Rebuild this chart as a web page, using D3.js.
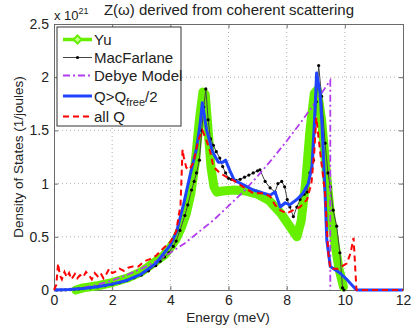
<!DOCTYPE html>
<html>
<head>
<meta charset="utf-8">
<script src="https://cdn.jsdelivr.net/npm/d3@7"></script>
<style>
  body { margin: 0; background: #fff; }
  text { font-family: "Liberation Sans", Arial, sans-serif; fill: #222; }
</style>
</head>
<body>
<div id="chart-container"></div>
<script>
const xTicks = [0, 2, 4, 6, 8, 10, 12];
const yTicks = [0, 0.5, 1, 1.5, 2, 2.5];

// Yu (thick green)
const yuX = [0.75, 1.0, 1.5, 2.0, 2.5, 3.0, 3.5, 3.8, 4.0, 4.2, 4.4, 4.55, 4.7, 4.85, 5.0, 5.12, 5.2, 5.3, 5.4, 5.5, 5.6, 5.8, 6.2, 6.6, 7.0, 7.4, 7.8, 8.1, 8.35, 8.5, 8.65, 8.8, 8.95, 9.05, 9.2, 9.35, 9.5, 9.65, 9.8, 9.95];
const yuY = [0.0, 0.02, 0.04, 0.07, 0.11, 0.17, 0.27, 0.33, 0.4, 0.48, 0.6, 0.72, 0.9, 1.18, 1.6, 1.86, 1.84, 1.5, 1.15, 0.97, 0.92, 0.93, 0.94, 0.93, 0.9, 0.84, 0.72, 0.6, 0.5, 0.65, 1.0, 1.5, 1.85, 1.88, 1.6, 1.15, 0.72, 0.45, 0.2, 0.03];

// MacFarlane (black, dotted markers)
const macX = [0.1, 0.25, 0.4, 0.55, 0.7, 0.85, 1.0, 1.25, 1.5, 1.75, 2.0, 2.25, 2.5, 2.75, 3.0, 3.25, 3.5, 3.65, 3.8, 3.95, 4.1, 4.2, 4.33, 4.5, 4.6, 4.73, 4.82, 4.9, 5.0, 5.08, 5.15, 5.22, 5.3, 5.38, 5.48, 5.58, 5.7, 5.8, 5.9, 6.0, 6.1, 6.25, 6.4, 6.55, 6.7, 6.85, 7.0, 7.08, 7.26, 7.43, 7.6, 7.7, 7.83, 7.93, 8.02, 8.11, 8.23, 8.35, 8.46, 8.6, 8.7, 8.8, 8.92, 9.02, 9.1, 9.2, 9.32, 9.42, 9.5, 9.6, 9.72, 9.83, 9.92, 9.97];
const macY = [0.0, 0.0, 0.002, 0.004, 0.007, 0.01, 0.013, 0.02, 0.03, 0.04, 0.055, 0.07, 0.09, 0.115, 0.14, 0.18, 0.23, 0.27, 0.31, 0.35, 0.41, 0.46, 0.56, 0.7, 0.8, 0.94, 1.02, 1.1, 1.22, 1.5, 1.72, 1.89, 1.6, 1.42, 1.36, 1.3, 1.24, 1.16, 1.1, 1.05, 1.04, 1.03, 1.04, 1.06, 1.08, 1.1, 1.12, 1.13, 1.02, 0.96, 0.92, 1.0, 1.02, 0.97, 0.85, 0.78, 0.69, 0.78, 0.85, 0.9, 0.92, 1.1, 1.22, 1.77, 2.11, 1.82, 1.38, 1.1, 0.97, 0.75, 0.6, 0.35, 0.02, 0.0];

// Debye model (purple dash-dot)
const debyeX = [0, 0.5, 1, 1.5, 2, 2.5, 3, 3.5, 4, 4.5, 5, 5.5, 6, 6.5, 7, 7.5, 8, 8.5, 9, 9.5, 9.5];
const debyeY = [0, 0.005, 0.02, 0.05, 0.09, 0.14, 0.2, 0.27, 0.35, 0.44, 0.55, 0.66, 0.79, 0.92, 1.07, 1.23, 1.4, 1.58, 1.77, 1.97, 0];

// Q > Qfree/2 (blue)
const blueX = [0, 0.5, 1.0, 1.5, 2.0, 2.5, 3.0, 3.5, 4.0, 4.22, 4.45, 4.68, 4.9, 5.02, 5.1, 5.25, 5.45, 5.65, 5.8, 5.9, 6.05, 6.2, 6.5, 6.85, 7.2, 7.43, 7.6, 7.78, 7.95, 8.1, 8.35, 8.56, 8.74, 8.87, 8.95, 9.03, 9.15, 9.22, 9.32, 9.38, 9.5, 9.83, 10.1, 10.4, 12];
const blueY = [0.0, 0.005, 0.015, 0.03, 0.055, 0.09, 0.15, 0.25, 0.42, 0.55, 0.8, 1.08, 1.33, 1.55, 1.76, 1.5, 1.3, 1.2, 1.2, 1.22, 1.12, 1.03, 0.99, 0.94, 0.91, 0.89, 0.92, 0.78, 0.82, 0.8, 0.85, 0.91, 1.0, 1.16, 1.55, 2.04, 1.85, 1.53, 0.91, 0.47, 0.22, 0.16, 0.09, 0.0, 0.0];

// all Q (red dashed)
const redX = [0, 0.08, 0.14, 0.2, 0.27, 0.36, 0.44, 0.52, 0.6, 0.72, 0.8, 0.9, 1.0, 1.1, 1.2, 1.3, 1.4, 1.5, 1.6, 1.7, 1.8, 1.9, 2.0, 2.1, 2.25, 2.4, 2.55, 2.7, 2.9, 3.1, 3.3, 3.5, 3.75, 4.0, 4.2, 4.35, 4.42, 4.46, 4.55, 4.65, 4.8, 4.95, 5.1, 5.25, 5.37, 5.48, 5.7, 5.94, 6.17, 6.5, 6.85, 7.2, 7.43, 7.6, 7.78, 8.0, 8.23, 8.46, 8.7, 8.85, 8.95, 9.02, 9.15, 9.32, 9.38, 9.43, 9.5, 9.77, 10.07, 10.2, 10.3, 10.4, 12];
const redY = [0.0, 0.05, 0.25, 0.14, 0.1, 0.17, 0.12, 0.16, 0.1, 0.15, 0.11, 0.14, 0.12, 0.17, 0.14, 0.1, 0.16, 0.13, 0.16, 0.11, 0.15, 0.2, 0.16, 0.17, 0.2, 0.18, 0.21, 0.22, 0.22, 0.27, 0.29, 0.32, 0.39, 0.45, 0.55, 0.8, 1.32, 1.25, 1.15, 1.13, 1.2, 1.4, 1.5, 1.4, 1.3, 1.16, 1.1, 1.06, 1.03, 0.97, 0.91, 0.91, 0.88, 0.8, 0.75, 0.72, 0.75, 0.78, 0.85, 1.0, 1.3, 1.62, 1.3, 0.91, 0.6, 0.35, 0.2, 0.2, 0.25, 0.35, 0.49, 0.0, 0.0];

const zip = (xs, ys) => xs.map((x, i) => ({ x, y: ys[i] }));

const width = 415, height = 326;
const margin = { top: 24, right: 12, bottom: 36, left: 54 };
const plotW = width - margin.left - margin.right;
const plotH = height - margin.top - margin.bottom;

const svg = d3.select("#chart-container")
    .append("svg")
    .attr("width", width)
    .attr("height", height);

const g = svg.append("g")
    .attr("transform", `translate(${margin.left},${margin.top})`);

const x = d3.scaleLinear().domain([0, 12]).range([0, plotW]);
const y = d3.scaleLinear().domain([0, 2.5]).range([plotH, 0]);

// Grid
g.append("g").selectAll("line")
    .data(xTicks.slice(1, -1))
    .join("line")
    .attr("x1", d => x(d)).attr("x2", d => x(d))
    .attr("y1", 0).attr("y2", plotH)
    .attr("stroke", "#b0b0b0").attr("stroke-dasharray", "1,3");
g.append("g").selectAll("line")
    .data(yTicks.slice(1, -1))
    .join("line")
    .attr("y1", d => y(d)).attr("y2", d => y(d))
    .attr("x1", 0).attr("x2", plotW)
    .attr("stroke", "#b0b0b0").attr("stroke-dasharray", "1,3");

// Axes
g.append("g")
    .attr("transform", `translate(0,${plotH})`)
    .call(d3.axisBottom(x).tickValues(xTicks).tickSize(-4).tickPadding(5));
g.append("g")
    .call(d3.axisLeft(y).tickValues(yTicks).tickFormat(d3.format("")).tickSize(-4).tickPadding(5));
g.append("g")
    .call(d3.axisTop(x).tickValues(xTicks).tickSize(-4).tickFormat(""));
g.append("g")
    .attr("transform", `translate(${plotW},0)`)
    .call(d3.axisRight(y).tickValues(yTicks).tickSize(-4).tickFormat(""));
g.selectAll(".domain, .tick line").attr("stroke", "#6a6a6a");
g.selectAll(".tick text").style("font-size", "14px").attr("fill", "#222");

const line = d3.line().x(d => x(d.x)).y(d => y(d.y));

// Yu
g.append("path")
    .datum(zip(yuX, yuY))
    .attr("fill", "none")
    .attr("stroke", "#66f000")
    .attr("stroke-width", 9)
    .attr("stroke-linejoin", "round")
    .attr("stroke-linecap", "round")
    .attr("d", line);

// MacFarlane
g.append("path")
    .datum(zip(macX, macY))
    .attr("fill", "none")
    .attr("stroke", "#444")
    .attr("stroke-width", 1)
    .attr("d", line);
g.append("g").selectAll("circle")
    .data(zip(macX, macY))
    .join("circle")
    .attr("cx", d => x(d.x))
    .attr("cy", d => y(d.y))
    .attr("r", 1.6)
    .attr("fill", "#000");

// Debye
g.append("path")
    .datum(zip(debyeX, debyeY))
    .attr("fill", "none")
    .attr("stroke", "#b23cf0")
    .attr("stroke-width", 1.8)
    .attr("stroke-dasharray", "7,3,2,3")
    .attr("d", line);

// Q > Qfree/2
g.append("path")
    .datum(zip(blueX, blueY))
    .attr("fill", "none")
    .attr("stroke", "#1f44ff")
    .attr("stroke-width", 3)
    .attr("stroke-linejoin", "round")
    .attr("d", line);

// all Q
g.append("path")
    .datum(zip(redX, redY))
    .attr("fill", "none")
    .attr("stroke", "#ff0000")
    .attr("stroke-width", 2)
    .attr("stroke-dasharray", "6,4")
    .attr("d", line);

// Title and labels
svg.append("text")
    .attr("x", 229).attr("y", 15)
    .attr("text-anchor", "middle")
    .style("font-size", "15px")
    .text("Z(ω) derived from coherent scattering");

const expo = svg.append("text")
    .attr("x", 54).attr("y", 20)
    .style("font-size", "13px");
expo.append("tspan").text("x 10");
expo.append("tspan").attr("dy", -6).style("font-size", "9px").text("21");

svg.append("text")
    .attr("x", 228).attr("y", 322)
    .attr("text-anchor", "middle")
    .style("font-size", "13.5px")
    .text("Energy (meV)");

svg.append("text")
    .attr("transform", `translate(23,${margin.top + plotH / 2}) rotate(-90)`)
    .attr("text-anchor", "middle")
    .style("font-size", "13.5px")
    .text("Density of States (1/joules)");

// Legend
const legend = svg.append("g").attr("transform", "translate(57,27)");
legend.append("rect")
    .attr("width", 124).attr("height", 99)
    .attr("fill", "#fff").attr("stroke", "#333").attr("stroke-width", 1);

const entries = [
    { label: "Yu", color: "#66f000", w: 3.5, dash: null },
    { label: "MacFarlane", color: "#444", w: 1, dash: null },
    { label: "Debye Model", color: "#b23cf0", w: 1.8, dash: "7,3,2,3" },
    { label: "Q>Q", color: "#1f44ff", w: 3, dash: null },
    { label: "all Q", color: "#ff0000", w: 2, dash: "6,4" }
];
const rowY = [12.5, 30.5, 48.5, 69, 89.5];

entries.forEach((e, i) => {
    const row = legend.append("g").attr("transform", `translate(0,${rowY[i]})`);
    row.append("line")
        .attr("x1", 6).attr("x2", 35).attr("y1", 0).attr("y2", 0)
        .attr("stroke", e.color).attr("stroke-width", e.w)
        .attr("stroke-dasharray", e.dash);
    const t = row.append("text")
        .attr("x", 37).attr("y", 5.5)
        .style("font-size", "15px")
        .text(e.label);
    if (i === 3) {
        t.append("tspan").attr("dy", 4).style("font-size", "11px").text("free");
        t.append("tspan").attr("dy", -4).text("/2");
    }
    if (i === 0) {
        row.append("path")
            .attr("d", d3.symbol(d3.symbolDiamond2, 40)())
            .attr("transform", "translate(20.5,0)")
            .attr("fill", "#c8ff90").attr("stroke", "#66f000").attr("stroke-width", 2);
    }
    if (i === 1) {
        row.append("circle").attr("cx", 20.5).attr("cy", 0).attr("r", 1.6).attr("fill", "#000");
    }
});
</script>
</body>
</html>
